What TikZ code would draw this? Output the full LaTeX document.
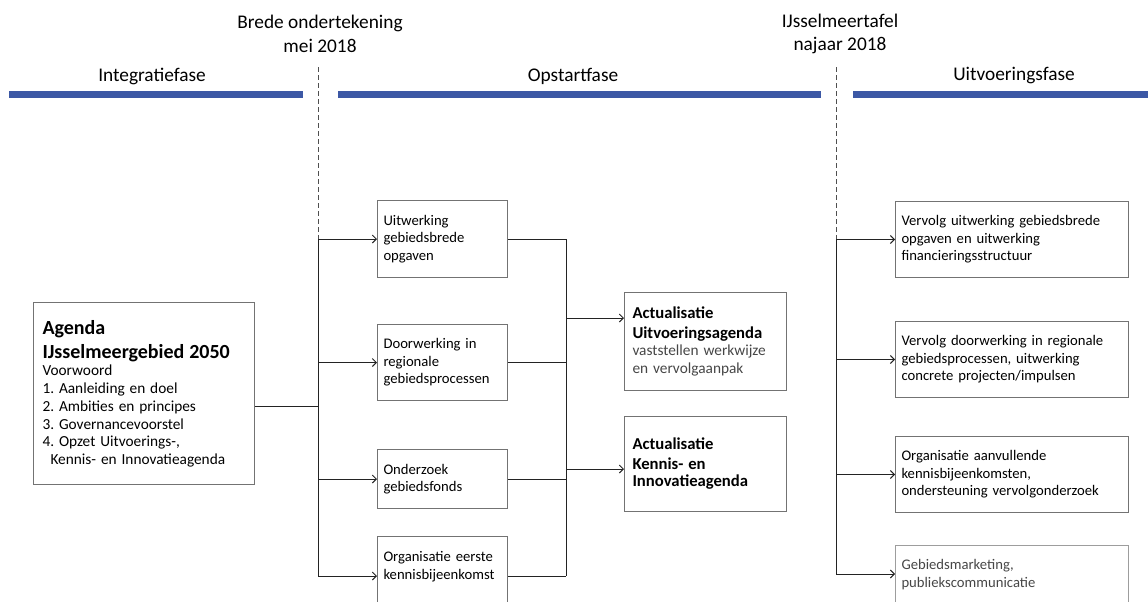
\documentclass[tikz,border=0pt]{standalone}
\usepackage{fontspec}
\setmainfont{Carlito}
\frenchspacing
\usetikzlibrary{arrows.meta}
\definecolor{phaseblue}{RGB}{60,88,165}
\definecolor{boxgray}{RGB}{115,115,115}
\definecolor{linegray}{RGB}{35,35,35}
\definecolor{softtext}{RGB}{70,70,70}
\begin{document}
\begin{tikzpicture}[x=0.75pt,y=-0.75pt,
    phase/.style={font=\fontsize{14.5}{17.7}\selectfont},
    milestone/.style={align=center,font=\fontsize{14.5}{17.7}\selectfont},
    phasebar/.style={draw=phaseblue,line width=5.25pt},
    cut/.style={draw=linegray!80,line width=0.75pt,dash pattern=on 3.75pt off 2.25pt},
    box/.style={draw=boxgray,line width=0.75pt,anchor=north west,align=left,inner ysep=0pt,
        font=\fontsize{11}{13.2}\selectfont},
    midbox/.style={box,text width=88.5pt,inner xsep=4.5pt},
    actbox/.style={box,text width=109.5pt,inner xsep=6pt},
    outbox/.style={box,text width=165.75pt,inner xsep=4.5pt},
    conn/.style={draw=linegray,line width=0.75pt},
    arr/.style={conn,-{Straight Barb[length=3pt,width=6pt]}}]
  \useasboundingbox (0,0) rectangle (1148,601);

  % Phases and milestones
  \node[phase] (integ) at (152,76) {Integratiefase};
  \node[phase] (opstart) at (573,76) {Opstartfase};
  \node[phase] (uitv) at (1014,76) {Uitvoeringsfase};
  \node[milestone] (brede) at (320,34) {Brede ondertekening\\mei 2018};
  \node[milestone] (ijssel) at (840,34) {IJsselmeertafel\\najaar 2018};

  % Blue phase bars
  \draw[phasebar] (9,94.5) -- (303,94.5);
  \draw[phasebar] (338,94.5) -- (821,94.5);
  \draw[phasebar] (853,94.5) -- (1148,94.5);

  % Junction coordinates.
  \coordinate (lt) at (318,239);   %top of left spine
  \coordinate (lm) at (318,406);   %agenda joins here
  \coordinate (lb) at (318,576);   %bottom of left spine
  \coordinate (mt) at (566,239);   %top of middle spine
  \coordinate (mb) at (566,576);   %bottom of middle spine
  \coordinate (a1) at (566,318);   %to Uitvoeringsagenda
  \coordinate (a2) at (566,469);   %to Kennis- en Innovatieagenda
  \coordinate (rt) at (836,239);   %top of right spine
  \coordinate (rb) at (836,574);   %bottom of right spine

  % Dashed milestone lines
  \draw[cut] (318,67) -- (lt);
  \draw[cut] (836,67) -- (rt);

  % Integratiefase
  \node[box,text width=152.25pt,inner xsep=6.75pt,minimum height=136.5pt] (agenda) at (33,302)
    {\fontsize{15}{18}\selectfont\bfseries Agenda\\IJsselmeergebied 2050\\
     \fontsize{11.5}{13.3}\selectfont\mdseries Voorwoord\\1. Aanleiding en doel\\2. Ambities en principes\\
     3. Governancevoorstel\\4. Opzet Uitvoerings-,\\\hspace*{6pt}Kennis- en Innovatieagenda};

  % Opstartfase
  \node[midbox,minimum height=57.75pt] (uitw) at (377,200) {Uitwerking\\gebiedsbrede\\opgaven};
  \node[midbox,minimum height=57pt] (doorw) at (377,324) {Doorwerking in\\regionale\\gebiedsprocessen};
  \node[midbox,minimum height=44.25pt] (onderz) at (377,449) {Onderzoek\\gebiedsfonds};
  \node[midbox,inner ysep=11.5pt,text depth=40pt] (orgk) at (377,536) {Organisatie eerste\\kennisbijeenkomst};
  \node[actbox,minimum height=73.5pt] (actu) at (624,292)
    {\fontsize{12.5}{14.5}\selectfont\bfseries Actualisatie\\Uitvoeringsagenda\\
     \fontsize{11.5}{13.3}\selectfont\mdseries\color{softtext}vaststellen werkwijze\\en vervolgaanpak};
  \node[actbox,minimum height=71.25pt] (actk) at (624,416)
    {\fontsize{12.5}{14.5}\selectfont\bfseries Actualisatie\\Kennis- en\\Innovatieagenda};

  % Uitvoeringsfase
  \node[outbox,minimum height=57pt] (vuitw) at (895,201) {Vervolg uitwerking gebiedsbrede\\opgaven en uitwerking\\financieringsstructuur};
  \node[outbox,minimum height=57pt] (vdoorw) at (895,321) {Vervolg doorwerking in regionale\\gebiedsprocessen, uitwerking\\concrete projecten/impulsen};
  \node[outbox,minimum height=57pt] (vorg) at (895,436) {Organisatie aanvullende\\kennisbijeenkomsten,\\ondersteuning vervolgonderzoek};
  \node[outbox,draw=boxgray!70,text=softtext,inner ysep=10.5pt,text depth=40pt] (mark) at (895,545) {Gebiedsmarketing,\\publiekscommunicatie};

  % Left spine and arrows
  \draw[conn] (agenda.east |- lm) -- (lm);
  \draw[conn] (lt) -- (lb);
  \draw[arr] (lt) -- (lt -| uitw.west);
  \draw[arr] (doorw.west -| lt) -- (doorw.west);
  \draw[arr] (onderz.west -| lt) -- (onderz.west);
  \draw[arr] (lb) -- (lb -| orgk.west);

  % Middle spine and arrows
  \draw[conn] (uitw.east) -- (uitw.east -| mt);
  \draw[conn] (doorw.east) -- (doorw.east -| mt);
  \draw[conn] (onderz.east) -- (onderz.east -| mt);
  \draw[conn] (mb -| orgk.east) -- (mb);
  \draw[conn] (mt) -- (mb);
  \draw[arr] (a1) -- (a1 -| actu.west);
  \draw[arr] (a2) -- (a2 -| actk.west);

  % Right spine and arrows
  \draw[conn] (rt) -- (rb);
  \draw[arr] (vuitw.west -| rt) -- (vuitw.west);
  \draw[arr] (vdoorw.west -| rt) -- (vdoorw.west);
  \draw[arr] (vorg.west -| rt) -- (vorg.west);
  \draw[arr] (rb) -- (rb -| mark.west);

\end{tikzpicture}
\end{document}
